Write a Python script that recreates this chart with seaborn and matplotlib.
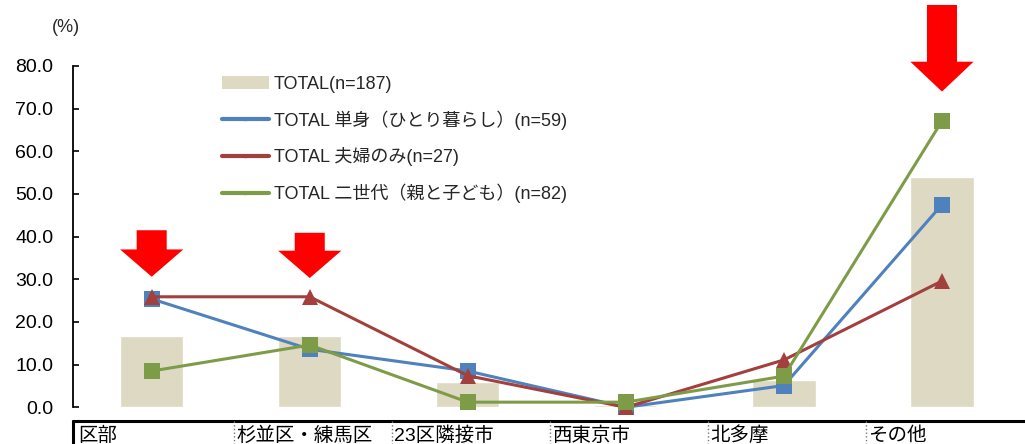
import numpy as np
import pandas as pd
import matplotlib
matplotlib.use("Agg")
import matplotlib.pyplot as plt
from matplotlib.patches import Patch, Polygon
from matplotlib.lines import Line2D
import seaborn as sns

# categories and values (%)
areas = ['区部', '杉並区・練馬区', '23区隣接市', '西東京市', '北多摩', 'その他']
total = [16.6, 16.6, 5.9, 0.5, 6.4, 54.0]
single = [25.4, 13.6, 8.5, 0.0, 5.1, 47.5]
couple = [25.9, 25.9, 7.4, 0.0, 11.1, 29.6]
family = [8.5, 14.6, 1.2, 1.2, 7.3, 67.1]

series_names = ['TOTAL 単身（ひとり暮らし）(n=59)',
                'TOTAL 夫婦のみ(n=27)',
                'TOTAL 二世代（親と子ども）(n=82)']
total_name = 'TOTAL(n=187)'

# highlighted categories (red arrows): index, arrow top, tip
arrow_idx = [0, 1, 5]
arrow_top = [41.5, 40.9, 94.3]
arrow_tip = [30.6, 30.3, 74.0]

bar_color = '#DDD9C3'
colors = ['#4F81BD', '#A3403D', '#7E9C48']
markers = ['s', '^', 's']

sns.set_theme(style='white')
plt.rcParams['font.family'] = ['Liberation Sans', 'Noto Sans CJK JP']

fig = plt.figure(figsize=(10.25, 4.44), dpi=100)
ax = fig.add_axes([0.0709, 0.0827, 0.9252, 0.7687])

sns.barplot(x=areas, y=total, color=bar_color, width=0.4, saturation=1,
            ax=ax, zorder=1)

lines = pd.DataFrame({
    'pos': np.tile(np.arange(len(areas)), 3),
    'value': single + couple + family,
    'series': np.repeat(series_names, len(areas)),
})
sns.lineplot(data=lines, x='pos', y='value', hue='series', style='series',
             hue_order=series_names, style_order=series_names,
             palette=dict(zip(series_names, colors)),
             markers=dict(zip(series_names, markers)), dashes=False,
             markersize=11, markeredgewidth=0, linewidth=2.2,
             legend=False, clip_on=False, zorder=3, ax=ax)

ax.set_xlim(-0.5, 5.5)
ax.set_ylim(0, 80)
ax.set_xticks([])
ax.set_xlabel('')
ax.set_ylabel('')
ax.set_yticks(np.arange(0, 81, 10))
ax.set_yticklabels([f'{v:.1f}' for v in np.arange(0, 81, 10)])
ax.tick_params(axis='y', direction='in', length=4, width=1.2, pad=14,
               labelsize=14, colors='black', left=True)
sns.despine(ax=ax, top=True, right=True, bottom=True)
ax.spines['left'].set_color('black')
ax.spines['left'].set_linewidth(1.3)

fig.text(0.051, 0.937, '(%)', fontsize=13, ha='left', va='center')

# x category table
trans = ax.get_xaxis_transform()
ax.plot([-0.5, 5.53], [-0.04, -0.04], transform=trans, color='black',
        lw=2.2, clip_on=False)
ax.plot([-0.5, -0.5], [-0.04, -0.2], transform=trans, color='black',
        lw=2.2, clip_on=False)
for i in range(len(areas) - 1):
    ax.plot([i + 0.52, i + 0.52], [-0.04, -0.2], transform=trans,
            color='#777777', lw=1, ls=':', clip_on=False)
for i, name in enumerate(areas):
    ax.text(i - 0.465, -0.084, name, transform=trans, ha='left',
            va='center', fontsize=14, color='black')

# red arrows
for i, top, tip in zip(arrow_idx, arrow_top, arrow_tip):
    head = tip + (7.0 if top > 80 else 6.4)
    pts = [(i - 0.095, top), (i + 0.095, top), (i + 0.095, head),
           (i + 0.2, head), (i, tip), (i - 0.2, head), (i - 0.095, head)]
    ax.add_patch(Polygon(pts, closed=True, facecolor='#FF0000',
                         edgecolor='none', clip_on=False, zorder=5))

handles = [Patch(facecolor=bar_color, edgecolor='none')]
handles += [Line2D([], [], color=c, lw=3, marker='s', ms=2) for c in colors]
ax.legend(handles, [total_name] + series_names, loc='upper left',
          bbox_to_anchor=(0.157, 0.972), frameon=False, fontsize=13,
          handlelength=2.6, handleheight=0.7, handletextpad=0.28,
          labelspacing=0.97, borderpad=0, borderaxespad=0)

fig.savefig('out.png', dpi=100)
